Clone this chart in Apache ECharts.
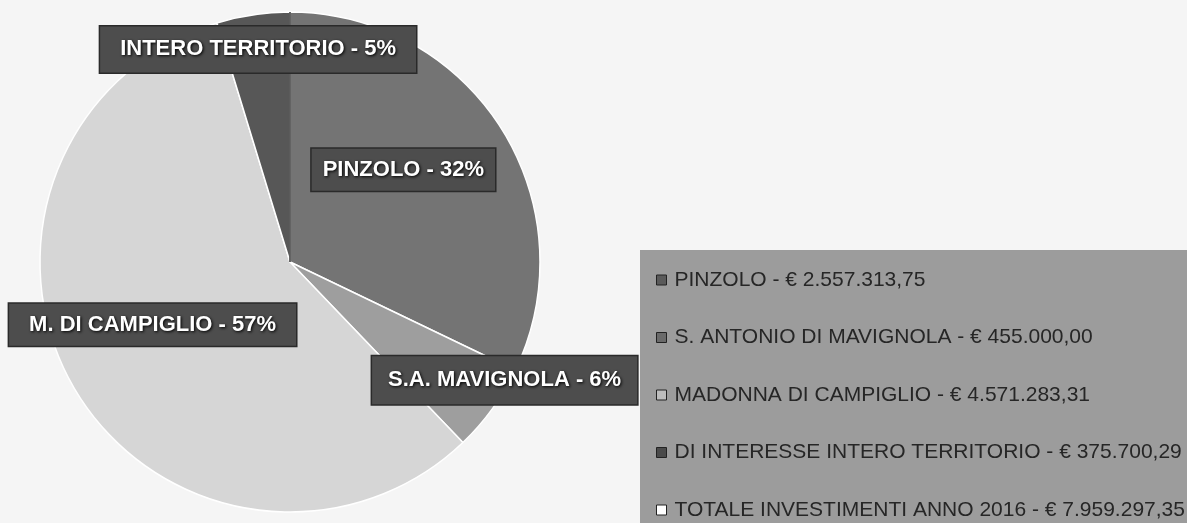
<!DOCTYPE html>
<html>
<head>
<meta charset="utf-8">
<script src="https://cdn.jsdelivr.net/npm/echarts@6/dist/echarts.min.js"></script>
<style>
html,body{margin:0;padding:0;background:#f5f5f5;}
#chart{width:1187px;height:523px;}
</style>
</head>
<body>
<div id="chart"></div>
<script>
// ---- data ----
var legendNames = [
  'PINZOLO - € 2.557.313,75',
  'S. ANTONIO DI MAVIGNOLA - € 455.000,00',
  'MADONNA DI CAMPIGLIO - € 4.571.283,31',
  'DI INTERESSE INTERO TERRITORIO - € 375.700,29',
  'TOTALE INVESTIMENTI ANNO 2016 - € 7.959.297,35'
];
var shortNames = ['PINZOLO', 'S.A. MAVIGNOLA', 'M. DI CAMPIGLIO', 'INTERO TERRITORIO', ''];
var values = [2557313.75, 455000.00, 4571283.31, 375700.29, 0];

// ---- styles (not data) ----
var sliceColors = ['#747474', '#9e9e9e', '#d6d6d6', '#575757', '#ffffff'];
var iconColors = ['#5a5a5a', '#6a6a6a', '#bdbdbd', '#4a4a4a', '#ffffff'];
var labelPadding = [[10, 11], [13, 16], [10, 20], [12, 20], [0, 0]];
var labelShift = [[5, -24], [111, 43], [-27, -2], [-13, -86], [0, 0]];

var chart = echarts.init(document.getElementById('chart'));

var seriesData = values.map(function (v, i) {
  var isTotal = i === values.length - 1;
  return {
    name: legendNames[i],
    value: v,
    itemStyle: isTotal
      ? { color: '#ffffff', borderColor: '#333', borderWidth: 1 }
      : { color: sliceColors[i] },
    label: isTotal ? { show: false } : { padding: labelPadding[i] },
    labelLine: { show: false }
  };
});

chart.setOption({
  backgroundColor: '#f5f5f5',
  animation: false,
  legend: {
    orient: 'vertical',
    left: 640,
    top: 250,
    height: 280,
    padding: [19, 40, 20, 16],
    backgroundColor: '#9c9c9c',
    itemGap: 35.5,
    itemWidth: 10,
    itemHeight: 10,
    icon: 'rect',
    selectedMode: false,
    textStyle: {
      fontFamily: 'Liberation Sans',
      fontSize: 21,
      lineHeight: 22,
      color: '#262626',
      padding: [0, 0, 0, 3]
    },
    data: legendNames.map(function (n, i) {
      return {
        name: n,
        itemStyle: {
          color: iconColors[i],
          borderColor: '#222',
          borderWidth: 1
        }
      };
    })
  },
  series: [{
    type: 'pie',
    center: [290, 262],
    radius: 250,
    startAngle: 90,
    clockwise: true,
    percentPrecision: 0,
    avoidLabelOverlap: false,
    itemStyle: { borderColor: '#ffffff', borderWidth: 1.5 },
    label: {
      show: true,
      position: 'inside',
      formatter: function (p) {
        return shortNames[p.dataIndex] + ' - ' + p.percent + '%';
      },
      fontFamily: 'Liberation Sans',
      fontWeight: 'bold',
      fontSize: 22,
      color: '#ffffff',
      textShadowColor: '#000',
      textShadowBlur: 3,
      textShadowOffsetX: 1,
      textShadowOffsetY: 1,
      backgroundColor: '#4d4d4d',
      borderColor: '#2a2a2a',
      borderWidth: 1.5
    },
    labelLayout: function (params) {
      var s = labelShift[params.dataIndex];
      return { dx: s[0], dy: s[1] };
    },
    emphasis: { disabled: true },
    data: seriesData
  }]
});
</script>
</body>
</html>
